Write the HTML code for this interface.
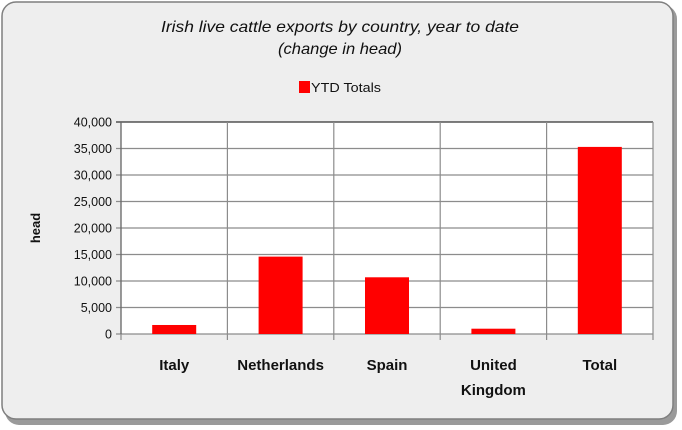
<!DOCTYPE html>
<html><head><meta charset="utf-8"><style>
html,body{margin:0;padding:0;background:#fff;}
svg{display:block;font-family:"Liberation Sans",sans-serif;}
</style></head><body>
<svg width="682" height="430" viewBox="0 0 682 430">
<rect x="5" y="5" width="672" height="420" rx="14" fill="#9a9a9a"/>
<rect x="2" y="2" width="671" height="417" rx="14" fill="#eeeeee" stroke="#7f7f7f" stroke-width="1.5"/>
<text x="340" y="32" text-anchor="middle" font-size="16" font-style="italic" textLength="358" lengthAdjust="spacingAndGlyphs" fill="#111">Irish live cattle exports by country, year to date</text>
<text x="340" y="54" text-anchor="middle" font-size="16" font-style="italic" textLength="124" lengthAdjust="spacingAndGlyphs" fill="#111">(change in head)</text>
<g>
<rect x="299" y="81" width="11" height="12" fill="#ff0000"/>
<text x="311" y="92" font-size="13" textLength="70" lengthAdjust="spacingAndGlyphs" fill="#111">YTD Totals</text>
</g>
<text transform="translate(40,228) rotate(-90)" text-anchor="middle" font-size="13" font-weight="bold" fill="#111">head</text>
<g id="plot"></g>
</svg>
<script>
const categories=["Italy","Netherlands","Spain","United|Kingdom","Total"];
const values=[1700,14600,10700,1000,35300];
const ticks=[0,5000,10000,15000,20000,25000,30000,35000,40000];
const X0=121,X1=653,Y0=334,Y1=122,YMAX=40000;
const ns="http://www.w3.org/2000/svg";
const g=document.getElementById('plot');
function y(v){return Y0-(v/YMAX)*(Y0-Y1);}
const cw=(X1-X0)/categories.length;
function x(i){return X0+cw*i;}
function mk(t,a){const e=document.createElementNS(ns,t);for(const k in a)e.setAttribute(k,a[k]);g.appendChild(e);return e;}
const bg=mk('rect',{x:X0,y:Y1,width:X1-X0,height:Y0-Y1,fill:'#fff'});


ticks.forEach(t=>{
 const l=mk('line',{x1:X0-5,x2:X1,y1:y(t),y2:y(t),stroke:t===YMAX?'#333':'#8c8c8c','stroke-width':1.2});
 
 
 const tx=mk('text',{x:X0-9,y:y(t)+4.5,'text-anchor':'end','font-size':12.5,fill:'#111'});
 tx.textContent=t.toLocaleString('en-US');
 
 
});
for(let i=0;i<=categories.length;i++){
 const l=mk('line',{x1:x(i),x2:x(i),y1:Y1,y2:Y0+6,stroke:'#8c8c8c','stroke-width':1.2});
 
 
}
const ax=mk('line',{x1:X0,x2:X0,y1:Y1,y2:Y0,stroke:'#666','stroke-width':1.2});


const bw=44;
values.forEach((v,i)=>{
 const cx=x(i)+cw/2;
 const r=mk('rect',{x:cx-bw/2,y:y(v),width:bw,height:Y0-y(v),fill:'#ff0000'});
 
 
 const parts=categories[i].split('|');
 parts.forEach((p,j)=>{
  const t=mk('text',{x:cx,y:370+j*25,'text-anchor':'middle','font-size':15,'font-weight':'bold',fill:'#111'});
  t.textContent=p;
  
  
 });
});
</script>
</body></html>
